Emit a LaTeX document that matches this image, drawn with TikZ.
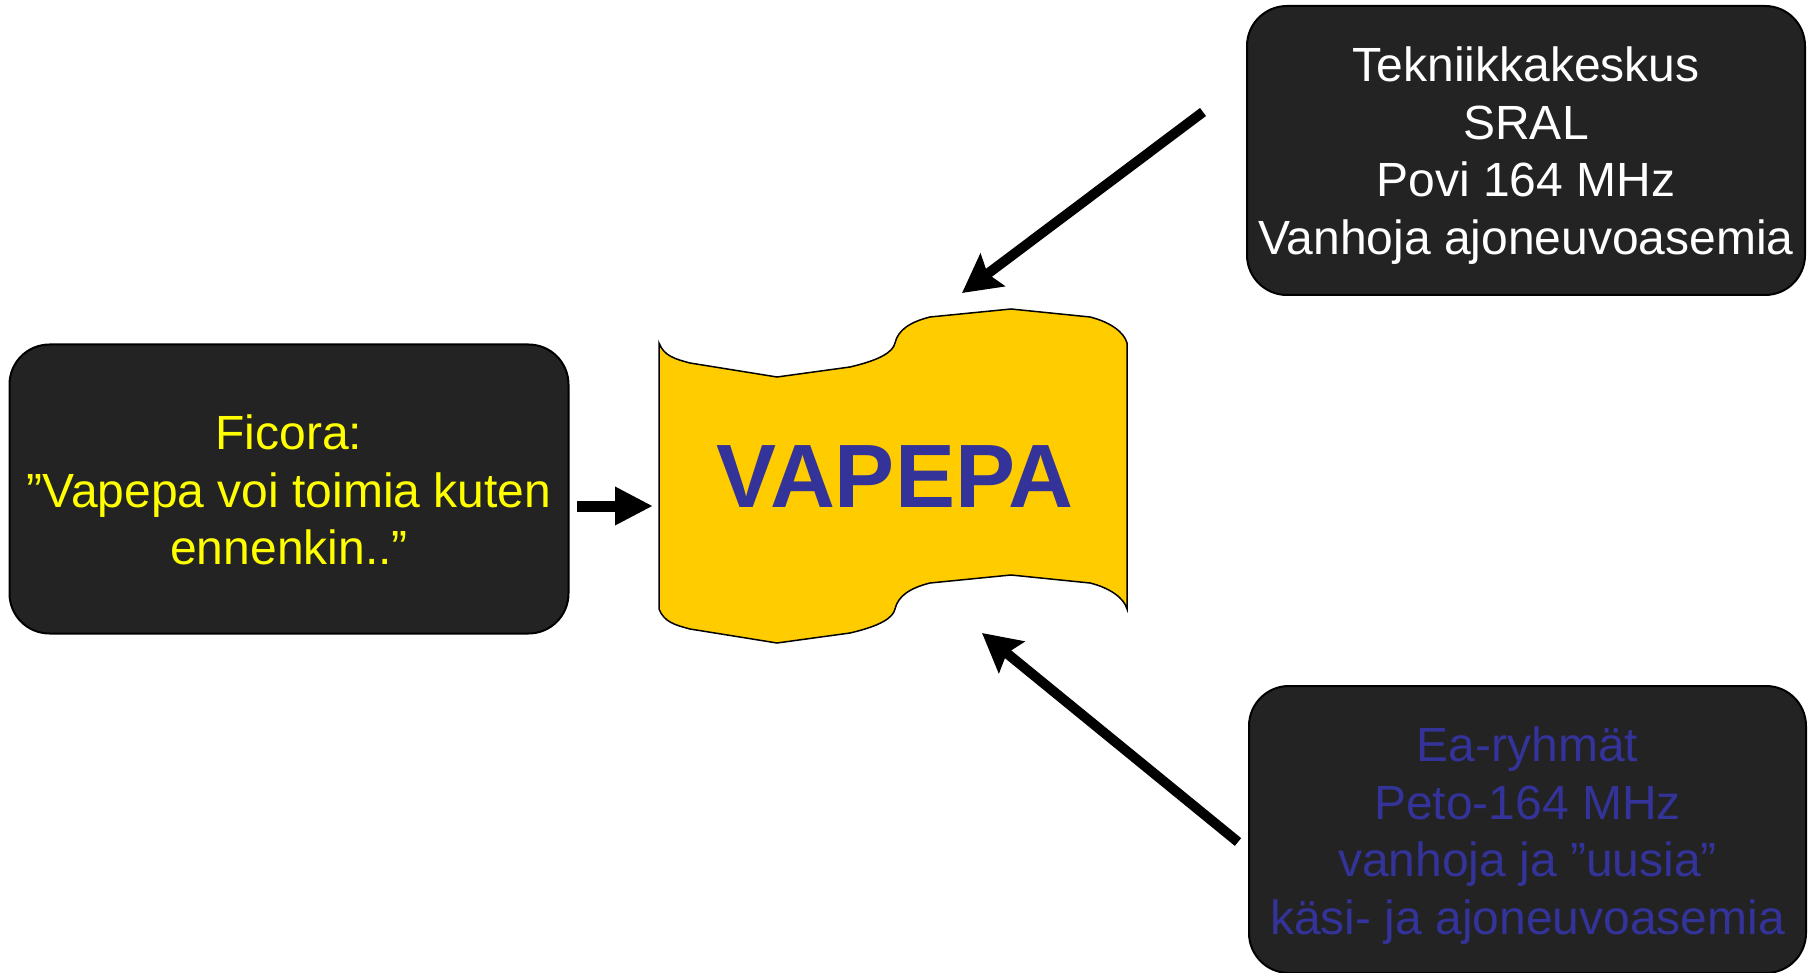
\documentclass[tikz,border=0pt]{standalone}
\usepackage{fontspec}
\setmainfont{Liberation Sans}
\usetikzlibrary{arrows.meta}
\definecolor{boxfill}{HTML}{232323}
\definecolor{tapeyellow}{HTML}{FFCC00}
\definecolor{navy}{HTML}{333399}
\definecolor{txtyellow}{HTML}{FFFF00}
\begin{document}
\begin{tikzpicture}[x=1pt,y=-1pt,
  darkbox/.style={draw=black,line width=2pt,fill=boxfill,rounded corners=40pt,inner sep=0pt},
  boxtext/.style={inner sep=0pt,align=center,font=\fontsize{48}{57.8}\selectfont},
  bigarrow/.style={line width=10pt,-{Stealth[length=38pt,width=40pt,inset=6pt]}},
  straightarrow/.style={line width=11pt,-{Triangle[length=38pt,width=36pt]}}]
\useasboundingbox (0,0) rectangle (1812,973);

% boxes
\node[darkbox,minimum width=559pt,minimum height=289pt] (ficora) at (289,489) {};
\node[boxtext,text=txtyellow] (ficoraText) at ([yshift=-1pt]ficora.center)
  {Ficora:\\”Vapepa voi toimia kuten\\ennenkin..”};
\node[darkbox,minimum width=558pt,minimum height=289pt] (tekniikka) at (1526,150.5) {};
\node[boxtext,text=white] (tekniikkaText) at ([yshift=-5pt]tekniikka.center)
  {Tekniikkakeskus\\SRAL\\Povi 164 MHz\\Vanhoja ajoneuvoasemia};
\node[darkbox,minimum width=557pt,minimum height=287pt] (ea) at (1527.5,829.5) {};
\node[boxtext,text=navy] (eaText) at ([yshift=-6pt]ea.center)
  {Ea-ryhmät\\Peto-164 MHz\\vanhoja ja ”uusia”\\käsi- ja ajoneuvoasemia};

% punched tape shape
\draw[fill=tapeyellow,line width=1.5pt]
  (659,343) .. controls (664,356) and (675,359) .. (690,363)
  -- (777,377) -- (850,367)
  .. controls (880,360) and (893,352) .. (895,343)
  .. controls (898,330) and (910,322) .. (930,317)
  -- (1011,309) -- (1090,317)
  .. controls (1110,322) and (1124,332) .. (1127,343)
  -- (1127,609)
  .. controls (1124,598) and (1110,588) .. (1090,583)
  -- (1011,575) -- (930,583)
  .. controls (910,588) and (898,596) .. (895,609)
  .. controls (893,618) and (880,626) .. (850,633)
  -- (777,643) -- (690,629)
  .. controls (675,625) and (664,622) .. (659,609)
  -- cycle;
\node[text=navy,font=\fontsize{90}{100}\selectfont\bfseries] (vapepa) at (895,477) {VAPEPA};

% arrows
\coordinate (ficoraOut) at (577,506);
\coordinate (tapeLeft) at (653,506);
\coordinate (tekOut) at (1203,112);
\coordinate (tapeTop) at (962,293);
\coordinate (eaOut) at (1238,842);
\coordinate (tapeBottom) at (982,633);
\draw[straightarrow] (ficoraOut) -- (tapeLeft);
\draw[bigarrow] (tekOut) -- (tapeTop);
\draw[bigarrow] (eaOut) -- (tapeBottom);
\end{tikzpicture}
\end{document}
